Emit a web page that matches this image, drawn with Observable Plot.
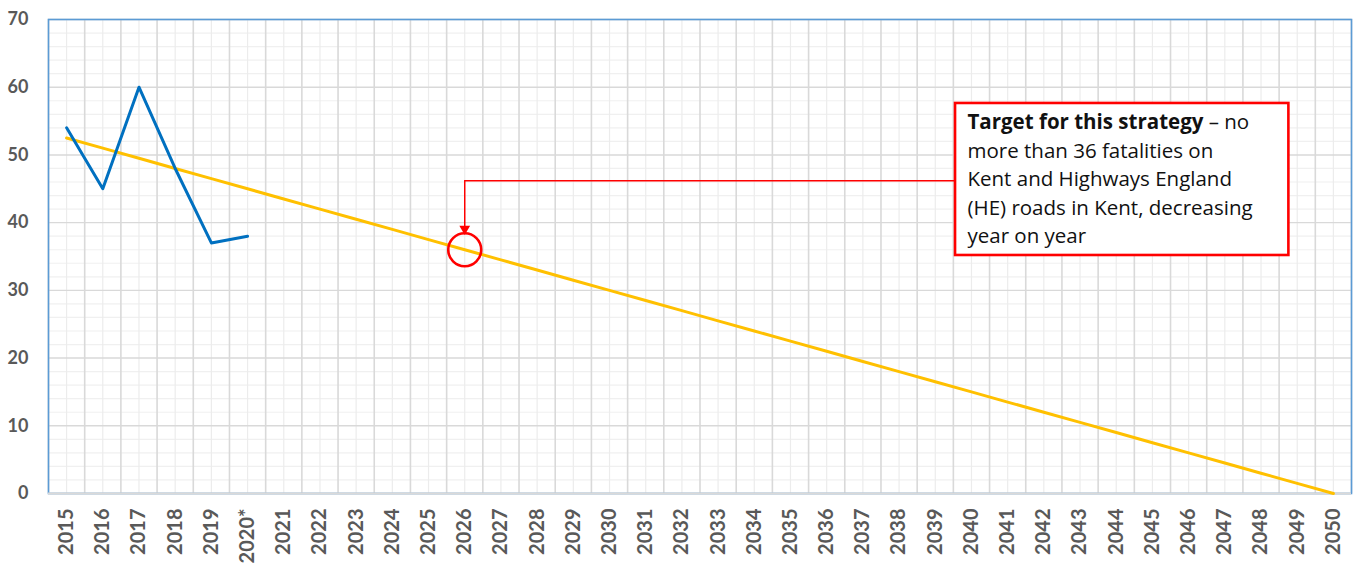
<!DOCTYPE html>
<html><head><meta charset="utf-8">
<script src="https://cdn.jsdelivr.net/npm/d3@7"></script>
<script src="https://cdn.jsdelivr.net/npm/@observablehq/plot@0.6"></script>
<style>body{margin:0;background:#fff} #chart svg{display:block}</style>
</head><body><div id="chart"></div>
<script>
const yearLabels = ["2015","2016","2017","2018","2019","2020*","2021","2022","2023","2024","2025","2026","2027","2028","2029","2030","2031","2032","2033","2034","2035","2036","2037","2038","2039","2040","2041","2042","2043","2044","2045","2046","2047","2048","2049","2050"];
const actualFatalities = [54, 45, 60, 48, 37, 38];
const targetTrajectory = [52.5, 51, 49.5, 48, 46.5, 45, 43.5, 42, 40.5, 39, 37.5, 36, 34.5, 33, 31.5, 30, 28.5, 27, 25.5, 24, 22.5, 21, 19.5, 18, 16.5, 15, 13.5, 12, 10.5, 9, 7.5, 6, 4.5, 3, 1.5, 0];
const yTicks = [0, 10, 20, 30, 40, 50, 60, 70];
const targetYear = "2026";
const targetValue = 36;
const noteBold = "Target for this strategy";
const noteLines = ["Target for this strategy \u2013 no", "more than 36 fatalities on", "Kent and Highways England", "(HE) roads in Kent, decreasing", "year on year"];

const actual = actualFatalities.map((v, i) => ({i, v}));
const target = targetTrajectory.map((v, i) => ({i, v}));
const ti = yearLabels.indexOf(targetYear);
// annotation placement in data units
const note = {x1: 24.56, x2: 33.77, y1: 35.15, y2: 57.6, tx: 24.89, ty: 56.8, elbowY: 46.2, tipY: 39.1};

const chart = Plot.plot({
  width: 1360, height: 564,
  marginLeft: 48, marginRight: 9, marginTop: 19, marginBottom: 71,
  x: {type: "linear", domain: [-0.5, yearLabels.length - 0.5], label: null},
  y: {domain: [0, 70], label: null},
  style: {background: "#fff", fontFamily: "Lato, sans-serif"},
  marks: [
    Plot.ruleY(d3.range(0, 71, 2).filter(v => v % 10), {stroke: "#f0f0f0", strokeWidth: 1.2}),
    Plot.ruleX(yearLabels.map((_, i) => i), {stroke: "#ececec", strokeWidth: 1.2}),
    Plot.ruleY(yTicks, {stroke: "#d9d9d9", strokeWidth: 1.4}),
    Plot.ruleX(d3.range(yearLabels.length + 1).map(i => i - 0.5), {stroke: "#d9d9d9", strokeWidth: 1.6}),
    Plot.frame({stroke: "#5b9bd5", strokeWidth: 1.6}),
    Plot.ruleY([0], {stroke: "#d9d9d9", strokeWidth: 1.8}),
    Plot.axisY({ticks: yTicks, tickSize: 0, tickPadding: 20, fontSize: 18, fontWeight: "bold", fill: "#595959", label: null}),
    Plot.axisX({ticks: yearLabels.map((_, i) => i), tickFormat: i => yearLabels[i], tickSize: 0, tickRotate: -90, tickPadding: 15, fontSize: 20, fontWeight: "bold", fill: "#595959", label: null}),
    Plot.line(target, {x: "i", y: "v", stroke: "#ffc000", strokeWidth: 3}),
    Plot.line(actual, {x: "i", y: "v", stroke: "#0070c0", strokeWidth: 3}),
    Plot.ruleY([note.elbowY], {x1: ti, x2: note.x1, stroke: "#ff0000", strokeWidth: 1.5}),
    Plot.ruleX([ti], {y1: note.elbowY, y2: note.tipY, stroke: "#ff0000", strokeWidth: 1.5}),
    Plot.dot([{x: ti, y: note.tipY}], {x: "x", y: "y", symbol: "triangle", rotate: 180, r: 4, fill: "#ff0000", stroke: "none"}),
    Plot.dot([{x: ti, y: targetValue}], {x: "x", y: "y", r: 16.5, stroke: "#ff0000", strokeWidth: 2.6, fill: "none"}),
    Plot.rect([note], {x1: "x1", x2: "x2", y1: "y1", y2: "y2", fill: "#fff", stroke: "#ff0000", strokeWidth: 2.6}),
    Plot.text([noteLines.join("\n")], {x: note.tx, y: note.ty, text: d => d, textAnchor: "start", lineAnchor: "top", lineHeight: 1.39, fontSize: 20.5, fontFamily: "Open Sans, sans-serif", fill: "#111"})
  ]
});
document.getElementById("chart").append(chart);

// make the first phrase of the note bold
chart.querySelectorAll("tspan").forEach(t => {
  if (t.textContent.startsWith(noteBold)) {
    const rest = t.textContent.slice(noteBold.length);
    t.textContent = "";
    const ns = "http://www.w3.org/2000/svg";
    const b = document.createElementNS(ns, "tspan");
    b.setAttribute("font-weight", "bold");
    b.textContent = noteBold;
    const r = document.createElementNS(ns, "tspan");
    r.textContent = rest;
    t.append(b, r);
  }
});
</script>
</body></html>
